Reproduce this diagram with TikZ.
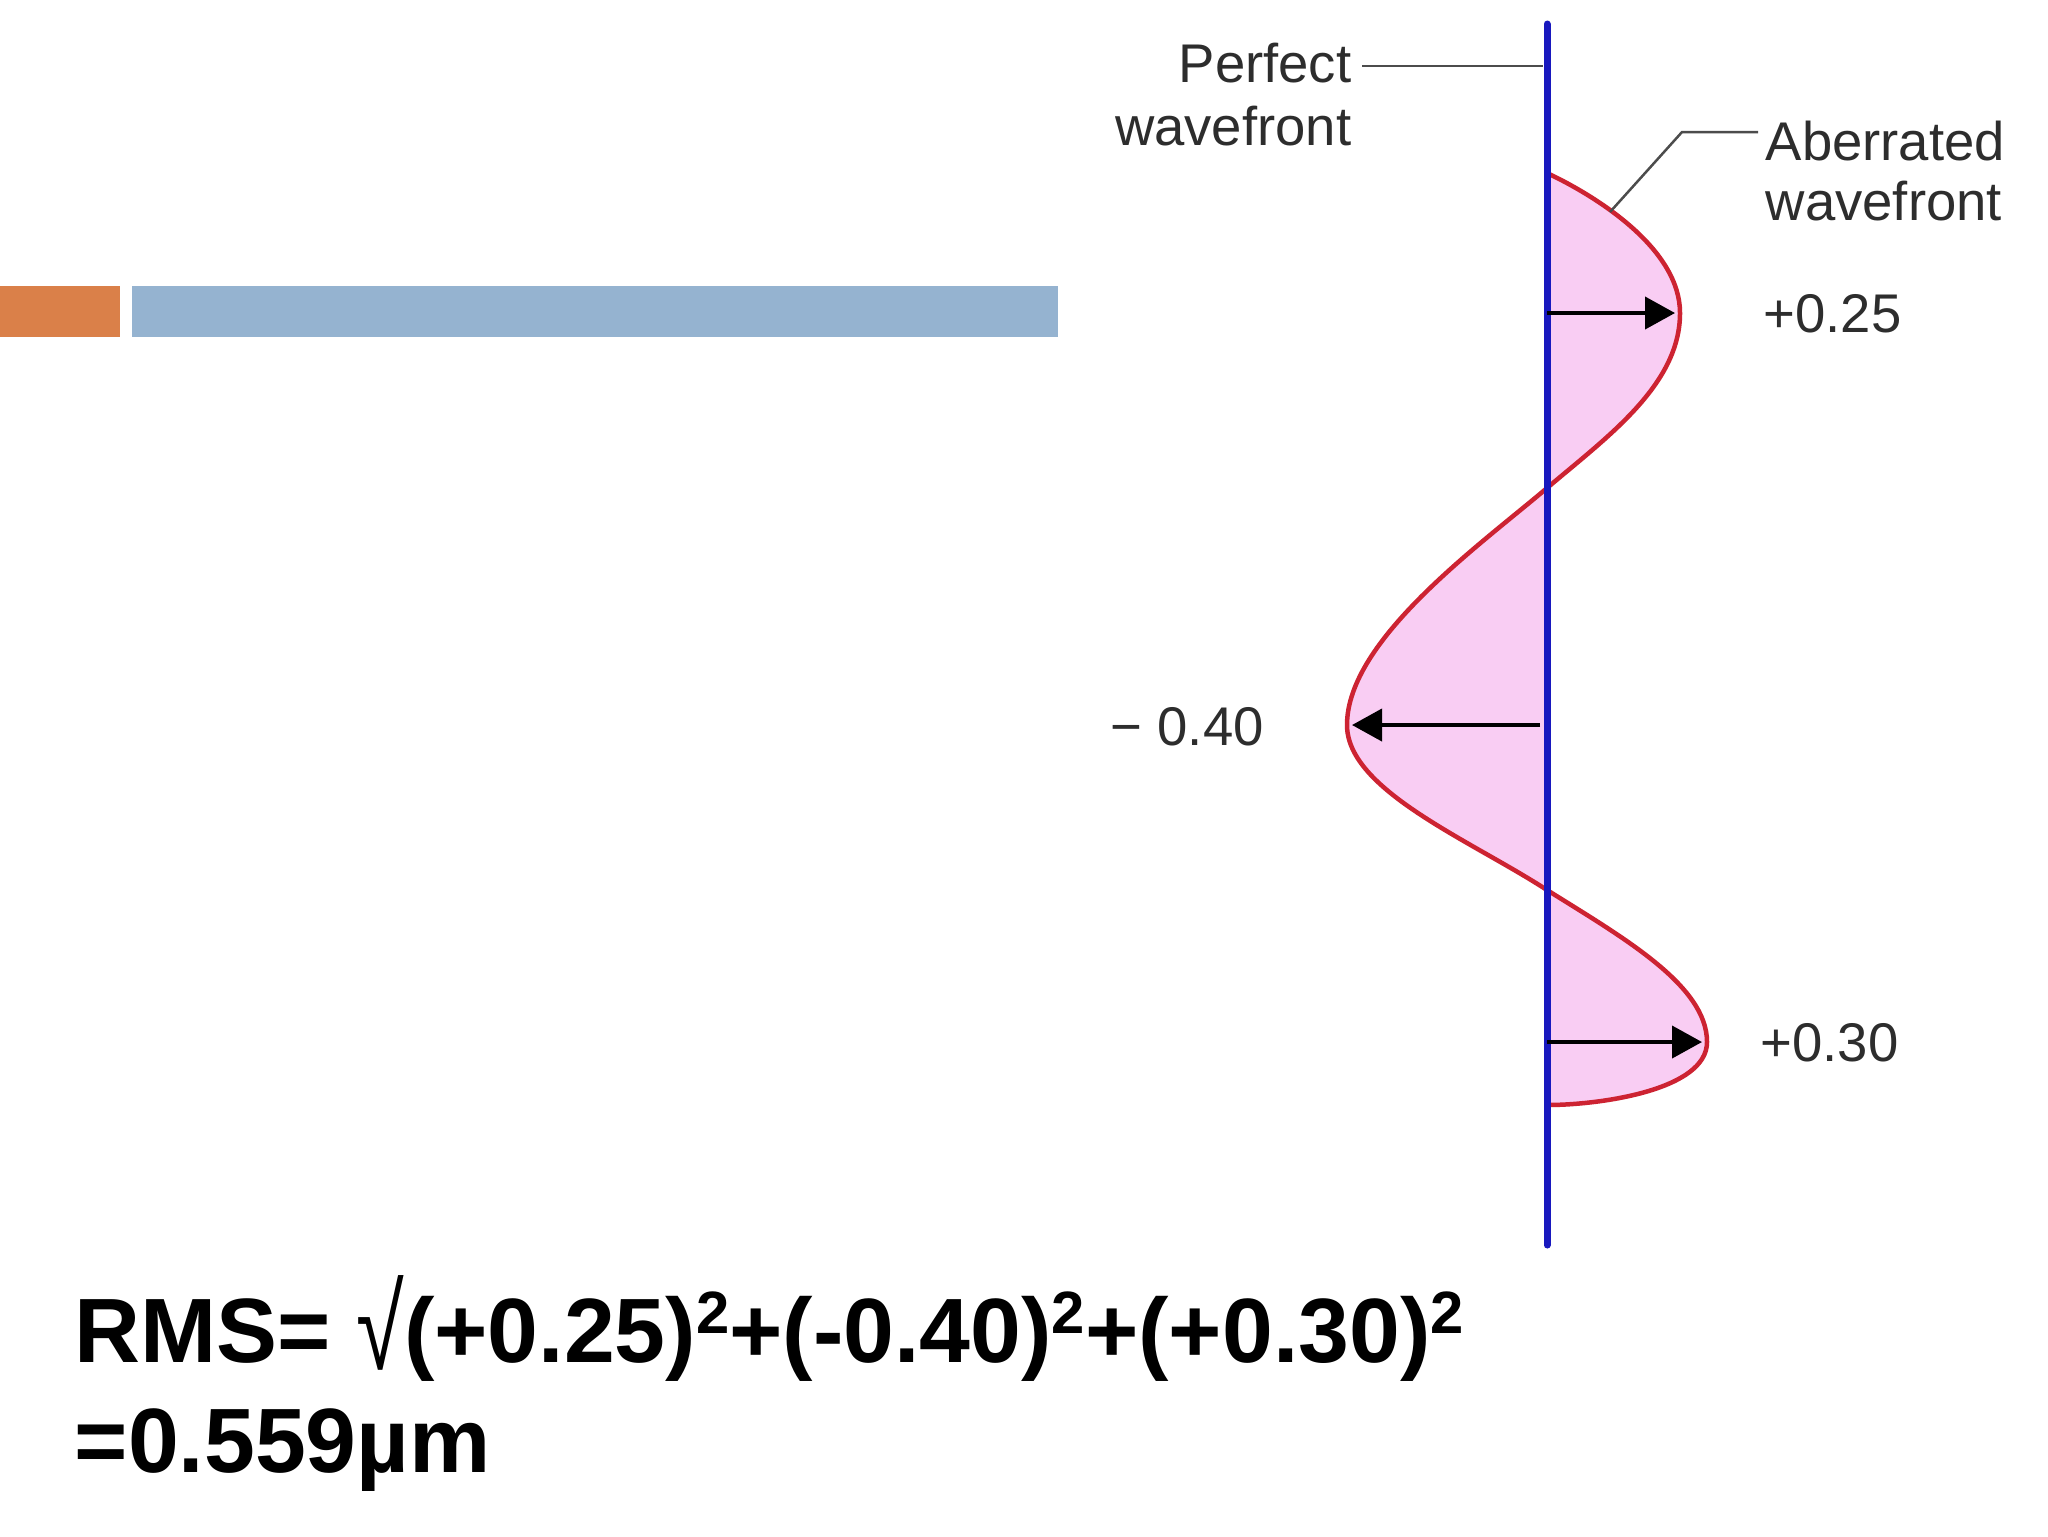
\documentclass[tikz,border=0pt]{standalone}
\usepackage{fontspec}
\usepackage{graphicx}
\setmainfont{Liberation Sans}
\usetikzlibrary{arrows.meta}
\definecolor{barorange}{RGB}{218,128,73}
\definecolor{barblue}{RGB}{149,179,208}
\definecolor{wfblue}{RGB}{24,24,190}
\definecolor{wfred}{RGB}{205,35,50}
\definecolor{wfpink}{RGB}{249,205,243}
\definecolor{labgray}{RGB}{45,45,45}
\newcommand{\sqtwo}{\raisebox{0.31em}{\fontsize{17pt}{17pt}\selectfont 2}}
\newcommand{\rootsign}{\raisebox{-0.08em}{\scalebox{0.95}[1.3]{\mdseries √}}}
\begin{document}
\begin{tikzpicture}[x=0.1mm,y=-0.1mm,
  lab/.style={inner sep=0pt,text=labgray,font=\fontsize{15.5pt}{18pt}\selectfont},
  leader/.style={draw=labgray!85,line width=0.25mm},
  devarrow/.style={draw=black,line width=0.4mm,-{Triangle[length=3mm,width=3.2mm]}},
  formula/.style={inner sep=0pt,anchor=base west,font=\fontsize{26pt}{30pt}\selectfont\bfseries}]
\useasboundingbox (0,0) rectangle (2048,1536);
\fill[white] (0,0) rectangle (2048,1536);
% header bars
\fill[barorange] (0,286) rectangle (120,337);
\fill[barblue] (132,286) rectangle (1058,337);
% aberrated wavefront
\coordinate (top) at (1547,173);
\coordinate (pk1) at (1680,313);
\coordinate (x1) at (1547,488);
\coordinate (pk2) at (1347,725);
\coordinate (x2) at (1547,890);
\coordinate (pk3) at (1707,1042);
\coordinate (bot) at (1547,1105);
\filldraw[fill=wfpink,draw=wfred,line width=0.45mm,line join=round]
  (top) .. controls (1600,198) and (1680,250) .. (pk1)
        .. controls (1680,385) and (1607,437) .. (x1)
        .. controls (1480,545) and (1347,640) .. (pk2)
        .. controls (1347,790) and (1470,840) .. (x2)
        .. controls (1622,937) and (1707,985) .. (pk3)
        .. controls (1707,1090) and (1600,1105) .. (bot) -- cycle;
% perfect wavefront
\coordinate (ptop) at (1547,24);
\coordinate (pbot) at (1547,1245);
\draw[wfblue,line width=0.7mm,line cap=round] (ptop) -- (pbot);
% deviation arrows
\coordinate (a1s) at (1547,313); \coordinate (a1e) at (1675,313);
\coordinate (a2s) at (1540,725); \coordinate (a2e) at (1352,725);
\coordinate (a3s) at (1547,1042); \coordinate (a3e) at (1702,1042);
\draw[devarrow] (a1s) -- (a1e);
\draw[devarrow] (a2s) -- (a2e);
\draw[devarrow] (a3s) -- (a3e);
% labels
\node[lab,anchor=base east] (perf1) at (1352,82) {Perfect};
\node[lab,anchor=base east] (perf2) at (1352,145) {wavefront};
\coordinate (perfline) at (1543,66);
\draw[leader] (1362,66) -- (perfline);
\node[lab,anchor=base west] (ab1) at (1765,160) {Aberrated};
\node[lab,anchor=base west] (ab2) at (1765,220) {wavefront};
\coordinate (abk) at (1682,132);
\coordinate (abc) at (1610,212);
\draw[leader] (1758,132) -- (abk) -- (abc);
\node[lab,anchor=base west] (v1) at (1763,332) {+0.25};
\node[lab,anchor=base west] (v2) at (1110,745) {− 0.40};
\node[lab,anchor=base west] (v3) at (1760,1061) {+0.30};
% formula
\node[formula] (f1) at (74,1362) {RMS= \rootsign(+0.25)\sqtwo+(-0.40)\sqtwo+(+0.30)\sqtwo};
\node[formula] (f2) at (74,1472) {=0.559µm};
\end{tikzpicture}
\end{document}
